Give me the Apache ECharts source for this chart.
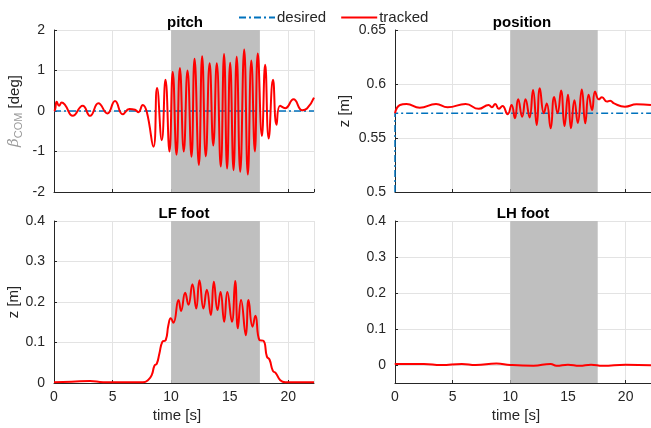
<!DOCTYPE html>
<html>
<head>
<meta charset="utf-8">
<script src="https://cdn.jsdelivr.net/npm/echarts@6/dist/echarts.min.js"></script>
<style>
html, body { margin: 0; padding: 0; background: #fff; }
#main { width: 651px; height: 428px; }
</style>
</head>
<body>
<div id="main"></div>
<script>
// time window where the disturbance is applied (grey band)
var bandStart = 10, bandEnd = 17.58;
var tMax = 22.2;

// pitch [deg]
var pitchT = [0, 0.09, 0.23, 0.43, 0.66, 0.94, 1.6, 2.45, 3.08, 3.79, 4.56, 5.21, 5.87, 6.44, 6.92, 7.21, 7.58, 7.92,
  8.49, 8.8, 9.2, 9.52, 9.86, 10.14, 10.46, 10.75, 11.08, 11.4, 11.74, 12.0, 12.37, 12.65, 12.96, 13.29, 13.6, 13.9,
  14.24, 14.52, 14.78, 15.04, 15.33, 15.6, 15.9, 16.24, 16.55, 16.85, 17.15, 17.4, 17.75, 18.03, 18.33, 18.7, 19.0,
  19.3, 19.74, 20.45, 21.2, 21.6, 22.2];
var pitchV = [0.0, 0.03, 0.23, 0.13, 0.21, 0.15, -0.12, 0.13, -0.12, 0.19, -0.06, 0.25, -0.08, 0.05, 0.03, -0.03, 0.15, -0.02,
  -0.88, 0.57, -0.72, 0.77, -1.0, 0.97, -1.08, 1.06, -1.0, 1.0, -1.13, 1.29, -1.33, 1.35, -1.12, 1.18, -0.85, 1.18,
  -1.37, 1.41, -1.42, 1.19, -1.46, 1.34, -1.5, 1.52, -1.57, 1.25, -1.0, 1.42, -0.62, 1.14, -0.68, 0.77, -0.34,
  0.13, 0.07, 0.29, 0.02, 0.06, 0.33];
var pitchRef = 0;

// COM height [m]
var posT = [0, 0.43, 1.0, 2.14, 3.56, 4.56, 6.13, 7.26, 8.12, 8.4, 8.69, 9.0, 9.32, 9.77, 10.11,
  10.4, 10.68, 11.03, 11.32, 11.67, 11.97, 12.29, 12.56, 12.91, 13.16, 13.5, 13.8, 14.1, 14.4, 14.7, 15.0,
  15.26, 15.56, 15.85, 16.2, 16.5, 16.79, 17.09, 17.35, 17.67, 17.95, 18.38, 18.66, 19.0, 19.94, 20.94, 22.2];
var posV = [0.573, 0.5806, 0.5815, 0.578, 0.5815, 0.5784, 0.5815, 0.577, 0.5806, 0.5785, 0.5815, 0.577, 0.5796, 0.572, 0.5806,
  0.5683, 0.5858, 0.5697, 0.5858, 0.569, 0.5944, 0.562, 0.596, 0.573, 0.582, 0.559, 0.588, 0.573, 0.594, 0.561, 0.59,
  0.559, 0.585, 0.564, 0.595, 0.5636, 0.59, 0.576, 0.593, 0.5858, 0.5877, 0.5837, 0.5846, 0.582, 0.579, 0.5812, 0.5806];
var posRef = 0.573;

// LF foot height [m]
var lfT = [0, 1.5, 3.08, 4.2, 5, 7.6, 8.06, 8.35, 8.58, 8.78, 9.0, 9.26, 9.54, 9.77, 9.97, 10.2, 10.63, 10.85, 11.2, 11.48,
  11.82, 12.14, 12.42, 12.76, 13.05, 13.39, 13.65, 13.96, 14.22, 14.53, 14.8, 15.19, 15.47, 15.7, 15.97, 16.38, 16.61,
  16.95, 17.2, 17.55, 17.89, 18.18, 18.4, 18.69, 18.95, 19.32, 19.74, 22.2];
var lfV = [0.002, 0.003, 0.005, 0.002, 0.002, 0.002, 0.008, 0.02, 0.043, 0.048, 0.073, 0.102, 0.106, 0.143, 0.16, 0.149, 0.205, 0.178, 0.223, 0.193,
  0.244, 0.184, 0.254, 0.184, 0.23, 0.168, 0.25, 0.18, 0.225, 0.151, 0.225, 0.151, 0.252, 0.135, 0.205, 0.118, 0.205,
  0.139, 0.166, 0.106, 0.104, 0.065, 0.058, 0.03, 0.024, 0.007, 0.002, 0.002];

// LH foot height [m]
var lhT = [0, 0.1, 2.5, 4, 5.8, 7, 8.8, 10, 12, 13.5, 14, 15, 16, 17, 18, 20, 22.2];
var lhV = [0.001, 0.003, 0.003, 0.0, 0.003, 0.0, 0.004, 0.0, -0.002, 0.003, -0.002, 0.001, -0.002, 0.001, -0.002, 0.001, -0.001];

function zip(t, v) {
  return t.map(function (x, i) { return [x, v[i]]; });
}

var FONT = 'Liberation Sans';
var TXT = '#262626';
var RED = '#ff0000';
var BLUE = '#0072bd';

var grids = [
  { left: 54, top: 30, width: 260, height: 162 },
  { left: 395, top: 30, width: 260, height: 162 },
  { left: 54, top: 221, width: 260, height: 162 },
  { left: 395, top: 221, width: 260, height: 162 }
];

function xAx(i, bottom) {
  return {
    type: 'value', gridIndex: i, min: 0, max: tMax, interval: 5,
    name: bottom ? 'time [s]' : '', nameLocation: 'middle', nameGap: 25,
    nameTextStyle: { fontFamily: FONT, fontSize: 15, color: TXT, padding: [0, 14, 0, 0] },
    axisLine: { onZero: false, lineStyle: { color: TXT, width: 1 } },
    axisTick: { inside: true, length: 3, lineStyle: { color: TXT } },
    axisLabel: { show: bottom, fontFamily: FONT, fontSize: 14, color: TXT, margin: 7, showMaxLabel: false },
    splitLine: { show: true, lineStyle: { color: '#e3e3e3' } }
  };
}

function yAx(i, min, max, interval, name, gap, extra) {
  var a = {
    type: 'value', gridIndex: i, min: min, max: max, interval: interval,
    name: name, nameLocation: 'middle', nameGap: gap,
    nameTextStyle: {
      fontFamily: FONT, fontSize: 15, color: TXT,
      rich: {
        b: { fontFamily: 'DejaVu Serif', fontStyle: 'italic', fontSize: 15, color: '#9a9a9a' },
        s: { fontFamily: FONT, fontSize: 11, color: '#9a9a9a', verticalAlign: 'bottom', padding: [8, 0, 0, 0] },
        n: { fontFamily: FONT, fontSize: 15, color: TXT }
      }
    },
    axisLine: { onZero: false, lineStyle: { color: TXT, width: 1 } },
    axisTick: { inside: true, length: 3, lineStyle: { color: TXT } },
    axisLabel: { fontFamily: FONT, fontSize: 14, color: TXT, margin: 9 },
    splitLine: { show: true, lineStyle: { color: '#e3e3e3' } }
  };
  if (extra) {
    a.axisLabel.customValues = extra;
    a.axisTick.customValues = extra;
  }
  return a;
}

function shade(i) {
  return {
    type: 'line', xAxisIndex: i, yAxisIndex: i, data: [], z: 1, silent: true,
    markArea: {
      silent: true,
      itemStyle: { color: '#bfbfbf' },
      data: [[{ xAxis: bandStart }, { xAxis: bandEnd }]]
    }
  };
}

function tracked(i, data) {
  return {
    name: 'tracked', type: 'line', xAxisIndex: i, yAxisIndex: i, data: data, z: 4,
    showSymbol: false, symbol: 'none', smooth: 0.5,
    lineStyle: { color: RED, width: 2 }, itemStyle: { color: RED }
  };
}

function desired(i, data) {
  return {
    name: 'desired', type: 'line', xAxisIndex: i, yAxisIndex: i, data: data, z: 3,
    showSymbol: false, symbol: 'none',
    lineStyle: { color: BLUE, width: 1.5, type: [7, 3, 2, 3] }, itemStyle: { color: BLUE }
  };
}

var titleStyle = { fontFamily: FONT, fontSize: 15, fontWeight: 'bold', color: '#000' };

var option = {
  animation: false,
  backgroundColor: '#fff',
  title: [
    { text: 'pitch', left: 180, top: 10, textAlign: 'center', textStyle: titleStyle },
    { text: 'position', left: 517, top: 10, textAlign: 'center', textStyle: titleStyle },
    { text: 'LF foot', left: 179, top: 201, textAlign: 'center', textStyle: titleStyle },
    { text: 'LH foot', left: 518, top: 201, textAlign: 'center', textStyle: titleStyle }
  ],
  legend: {
    data: ['desired', 'tracked'],
    left: 233, top: 5, itemWidth: 36, itemHeight: 14, itemGap: 14,
    itemStyle: { opacity: 0 },
    textStyle: { fontFamily: FONT, fontSize: 15, color: TXT, padding: [0, 0, 0, -3] }
  },
  grid: grids,
  xAxis: [xAx(0, false), xAx(1, false), xAx(2, true), xAx(3, true)],
  yAxis: [
    yAx(0, -2, 2, 1, '{b|β}{s|COM}{n| [deg]}', 30),
    yAx(1, 0.5, 0.65, 0.05, 'z [m]', 43),
    yAx(2, 0, 0.4, 0.1, 'z [m]', 30),
    yAx(3, -0.05, 0.4, 0.05, '', 30, [0, 0.1, 0.2, 0.3, 0.4])
  ],
  series: [
    shade(0), shade(1), shade(2), shade(3),
    desired(0, [[0, pitchRef], [tMax, pitchRef]]),
    tracked(0, zip(pitchT, pitchV)),
    desired(1, [[0, 0.5], [0, posRef], [tMax, posRef]]),
    tracked(1, zip(posT, posV)),
    tracked(2, zip(lfT, lfV)),
    tracked(3, zip(lhT, lhV))
  ]
};

var chart = echarts.init(document.getElementById('main'));
chart.setOption(option);
</script>
</body>
</html>
